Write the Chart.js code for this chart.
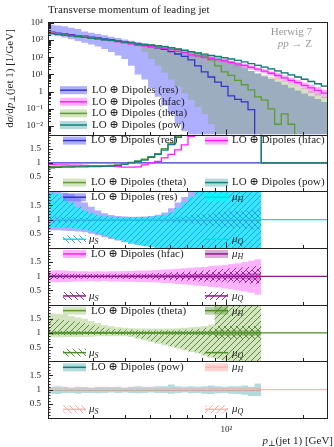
<!DOCTYPE html>
<html>
<head>
<meta charset="utf-8">
<script src="https://cdn.jsdelivr.net/npm/chart.js@4.4.1/dist/chart.umd.min.js"></script>
<style>
  html, body { margin: 0; padding: 0; background: #fff; }
</style>
</head>
<body>
<canvas id="c" width="334" height="447"></canvas>
<script>
// bin edges of p_T (jet 1) [GeV]
const edges = [20, 21.24, 22.56, 23.95, 25.44, 27.01, 28.69, 30.47, 32.35, 34.36, 36.49, 38.75, 41.15, 43.70,
  46.41, 49.29, 52.34, 55.59, 59.03, 62.69, 66.58, 70.70, 75.09, 79.74, 84.68, 89.93, 95.51, 101.4, 107.7,
  114.4, 121.5, 129.0, 137.0, 145.5, 154.5, 164.1, 174.3, 185.1, 196.5, 208.7, 221.7, 235.4, 250];

// main panel: d sigma / d pT [1/GeV]
const res   = [2890, 2550, 2290, 2050, 1840, 1680, 1480, 1350, 1190, 1070, 935, 817, 708, 574, 500, 418, 352, 288, 215, 155, 112, 70, 31.6, 14.1, 7.1, 3.55, 2.0, 0.56, 0.35, 0.25, 0.089, 0.001, null, null, null, null, null, null, null, null, null, null];
const hfac  = [2720, 2370, 2130, 1890, 1690, 1530, 1330, 1215, 1060, 942, 813, 694, 602, 494, 465, 418, 370, 340, 280, 226, 184, 136, 120, 100, 85, 72, 62, 50, 41.7, 33.1, 26.3, 20.4, 15.8, 11.7, 8.7, 6.3, 4.57, 3.31, 2.34, 1.66, 1.17, 0.81];
const theta = [2510, 2220, 2020, 1800, 1620, 1500, 1320, 1215, 1070, 974, 870, 784, 722, 614, 565, 510, 468, 432, 366, 302, 257, 211, 166, 120, 70.8, 31.6, 14.1, 8.9, 4.47, 2.51, 1.26, 0.5, 0.32, 0.1, 0.0126, 0.05, 0.0126, 0, null, null, null, null];
const pow   = [2400, 2140, 1950, 1740, 1585, 1445, 1288, 1175, 1047, 955, 851, 776, 708, 603, 550, 501, 457, 417, 355, 295, 251, 209, 178, 151, 129, 112, 95.5, 79.4, 66.1, 53.7, 42.7, 33.9, 26.9, 20.9, 16.2, 12.3, 9.33, 7.08, 5.25, 3.89, 2.88, 2.09];

// uncertainty envelopes, main panel
const resHi   = [7940, 7080, 6310, 5250, 4370, 3160, 2690, 2290, 1905, 1585, 1318, 1096, 912, 776, 661, 575, 501, 389, 331, 275, 234, 195, 166, 141, 120, 102, 87, 63, 40, 25, 15.8, 11.2, 7.9, 5.4, 3.7, 2.5, 1.7, 1.17, 0.79, 0.54, 0.37, 0.25];
const resLo   = [1905, 1660, 1413, 1122, 891, 708, 562, 417, 302, 200, 126, 79, 31.6, 10, 5.0, 1.58, 0.5, 0.158, 0.05, 0.0126, 0.005, 0, 0, 0, 0, 0, 0, 0, 0, 0, 0, 0, 0, 0, 0, 0, 0, 0, 0, 0, 0, 0];
const hfacHi  = [2920, 2540, 2280, 2030, 1810, 1640, 1430, 1300, 1140, 1010, 872, 744, 645, 530, 498, 448, 397, 364, 300, 242, 197, 156, 138, 115, 98, 83, 71, 57, 52.5, 41.7, 33.1, 25.7, 19.9, 14.7, 12.3, 8.9, 6.46, 4.68, 3.31, 2.63, 1.85, 1.28];
const hfacLo  = [2450, 2140, 1920, 1700, 1520, 1380, 1200, 1100, 956, 850, 733, 626, 543, 446, 419, 377, 334, 307, 253, 204, 166, 111, 98, 81, 69, 58.5, 50.4, 40.7, 29.5, 23.4, 18.6, 14.4, 11.2, 8.3, 5.2, 3.75, 2.72, 1.97, 1.39, 0.83, 0.59, 0.41];
const thetaHi = [2690, 2380, 2160, 1930, 1730, 1600, 1410, 1300, 1140, 1040, 930, 840, 770, 660, 605, 550, 500, 460, 390, 320, 275, 226, 190, 141, 112, 89, 71, 50, 35.5, 22.4, 15.8, 11.2, 8.9, 7.1, 5.6, 4.0, 2.8, 2.0, 1.58, 1.12, 0.79, 0.50];
const thetaLo = [2340, 2070, 1890, 1680, 1510, 1400, 1230, 1130, 1000, 910, 810, 730, 670, 500, 200, 79, 31.6, 12.6, 5.0, 2.0, 0.79, 0.32, 0.126, 0.05, 0.0126, 0.0025, 0, 0, 0, 0, 0, 0, 0, 0, 0, 0, 0, 0, 0, 0, 0, 0];
const powHi   = [2570, 2290, 2090, 1870, 1700, 1550, 1380, 1260, 1120, 1020, 912, 832, 759, 646, 590, 537, 490, 447, 381, 316, 269, 224, 191, 162, 138, 120, 102, 85.1, 70.9, 57.6, 45.8, 38.0, 30.2, 23.4, 18.2, 13.8, 10.5, 7.94, 5.89, 4.36, 3.23, 2.35];
const powLo   = [2240, 2000, 1820, 1620, 1480, 1350, 1200, 1100, 977, 891, 794, 724, 661, 563, 513, 467, 426, 389, 331, 275, 234, 195, 166, 141, 120, 104.5, 89.1, 74.1, 61.7, 50.1, 39.8, 30.2, 24.0, 18.6, 14.4, 11.0, 8.31, 6.31, 4.68, 3.47, 2.57, 1.86];

// ratio panel 1: ratio to (res)
const unity   = [1, 1, 1, 1, 1, 1, 1, 1, 1, 1, 1, 1, 1, 1, 1, 1, 1, 1, 1, 1, 1, 1, 1, 1, 1, 1, 1, 1, 1, 1, 1, 1, 1, 1, 1, 1, 1, 1, 1, 1, 1, 1];
const rHfac   = [0.94, 0.93, 0.93, 0.92, 0.92, 0.91, 0.9, 0.9, 0.89, 0.88, 0.87, 0.85, 0.85, 0.86, 0.93, 1.0, 1.05, 1.18, 1.3, 1.46, 1.64, 1.94, 3.8, 7.1, 12, 20, 31, 89, 119, 132, 296, 20400, 1, 1, 1, 1, 1, 1, 1, 1, 1, 1];
const rTheta  = [0.87, 0.87, 0.88, 0.88, 0.88, 0.89, 0.89, 0.9, 0.9, 0.91, 0.93, 0.96, 1.02, 1.07, 1.13, 1.22, 1.33, 1.5, 1.7, 1.95, 2.29, 3.0, 5.3, 8.5, 10, 8.9, 7.1, 15.9, 12.8, 10, 14.2, 500, 1, 1, 1, 1, 1, 1, 1, 1, 1, 1];
const rPow    = [0.83, 0.84, 0.85, 0.85, 0.86, 0.86, 0.87, 0.87, 0.88, 0.89, 0.91, 0.95, 1.0, 1.05, 1.1, 1.2, 1.3, 1.45, 1.65, 1.9, 2.24, 3.0, 5.6, 10.7, 18, 32, 48, 142, 189, 215, 480, 33900, 1, 1, 1, 1, 1, 1, 1, 1, 1, 1];

// scale variation panels (relative to own central value), first 32 bins
const p2TotU = [1.98, 1.98, 1.95, 1.9, 1.75, 1.6, 1.45, 1.32, 1.22, 1.16, 1.13, 1.11, 1.1, 1.1, 1.11, 1.13, 1.17, 1.25, 1.4, 1.6, 1.8, 2, 2, 2, 2, 2, 2, 2, 2, 2, 2, 2];
const p2TotL = [0.62, 0.62, 0.61, 0.6, 0.58, 0.55, 0.5, 0.45, 0.38, 0.32, 0.26, 0.2, 0.15, 0.1, 0.06, 0.03, 0, 0, 0, 0, 0, 0, 0, 0, 0, 0, 0, 0, 0, 0, 0, 0];
const p2HU = [1.95, 1.9, 1.75, 1.6, 1.45, 1.32, 1.22, 1.16, 1.12, 1.1, 1.09, 1.08, 1.08, 1.08, 1.09, 1.1, 1.13, 1.17, 1.25, 1.4, 1.6, 1.8, 2, 2, 2, 2, 2, 2, 2, 2, 2, 2];
const p2HL = [0.72, 0.72, 0.71, 0.7, 0.68, 0.64, 0.58, 0.5, 0.42, 0.35, 0.28, 0.22, 0.16, 0.11, 0.07, 0.04, 0.01, 0, 0, 0, 0, 0, 0, 0, 0, 0, 0, 0, 0, 0, 0, 0];
const p2SU = [1.1, 1.1, 1.09, 1.08, 1.07, 1.06, 1.05, 1.04, 1.04, 1.03, 1.03, 1.03, 1.03, 1.03, 1.03, 1.04, 1.05, 1.06, 1.08, 1.1, 1.12, 1.15, 1.18, 1.2, 1.22, 1.25, 1.28, 1.3, 1.3, 1.32, 1.35, 1.35];
const p2SL = [0.9, 0.9, 0.9, 0.91, 0.92, 0.93, 0.94, 0.95, 0.95, 0.96, 0.96, 0.96, 0.96, 0.96, 0.96, 0.95, 0.94, 0.93, 0.91, 0.9, 0.88, 0.85, 0.82, 0.8, 0.78, 0.75, 0.72, 0.7, 0.7, 0.68, 0.65, 0.65];

const p3TotU = [1.2, 1.21, 1.2, 1.19, 1.18, 1.18, 1.17, 1.18, 1.17, 1.18, 1.18, 1.19, 1.19, 1.2, 1.2, 1.21, 1.22, 1.24, 1.25, 1.27, 1.28, 1.3, 1.32, 1.33, 1.36, 1.38, 1.4, 1.43, 1.46, 1.5, 1.55, 1.6];
const p3TotL = [0.8, 0.79, 0.8, 0.81, 0.82, 0.82, 0.83, 0.82, 0.83, 0.82, 0.82, 0.81, 0.81, 0.8, 0.8, 0.79, 0.78, 0.76, 0.75, 0.73, 0.71, 0.69, 0.67, 0.65, 0.62, 0.6, 0.57, 0.54, 0.5, 0.46, 0.42, 0.35];
const p3HU = [1.05, 1.05, 1.05, 1.04, 1.04, 1.04, 1.04, 1.04, 1.04, 1.04, 1.04, 1.05, 1.05, 1.05, 1.05, 1.05, 1.06, 1.06, 1.06, 1.07, 1.07, 1.07, 1.08, 1.08, 1.08, 1.09, 1.09, 1.1, 1.1, 1.11, 1.12, 1.12];
const p3HL = [0.95, 0.95, 0.95, 0.96, 0.96, 0.96, 0.96, 0.96, 0.96, 0.96, 0.96, 0.95, 0.95, 0.95, 0.95, 0.95, 0.94, 0.94, 0.94, 0.93, 0.93, 0.93, 0.92, 0.92, 0.92, 0.91, 0.91, 0.9, 0.9, 0.89, 0.88, 0.88];
const p3SU = [1.08, 1.08, 1.07, 1.07, 1.07, 1.06, 1.06, 1.06, 1.06, 1.06, 1.06, 1.07, 1.07, 1.07, 1.07, 1.08, 1.08, 1.09, 1.09, 1.1, 1.1, 1.11, 1.12, 1.13, 1.14, 1.15, 1.16, 1.17, 1.18, 1.2, 1.22, 1.25];
const p3SL = [0.92, 0.92, 0.93, 0.93, 0.93, 0.94, 0.94, 0.94, 0.94, 0.94, 0.94, 0.93, 0.93, 0.93, 0.93, 0.92, 0.92, 0.91, 0.91, 0.9, 0.9, 0.89, 0.88, 0.87, 0.86, 0.85, 0.84, 0.83, 0.82, 0.8, 0.78, 0.75];
const p3QU = [1.1, 1.1, 1.1, 1.09, 1.09, 1.09, 1.08, 1.08, 1.08, 1.09, 1.09, 1.09, 1.1, 1.1, 1.1, 1.11, 1.12, 1.13, 1.14, 1.15, 1.16, 1.17, 1.18, 1.2, 1.22, 1.24, 1.26, 1.28, 1.3, 1.32, 1.34, 1.36];
const p3QL = [0.9, 0.9, 0.9, 0.91, 0.91, 0.91, 0.92, 0.92, 0.92, 0.91, 0.91, 0.91, 0.9, 0.9, 0.9, 0.89, 0.88, 0.87, 0.86, 0.85, 0.84, 0.83, 0.82, 0.81, 0.8, 0.79, 0.78, 0.77, 0.76, 0.75, 0.74, 0.72];

const p4TotU = [1.7, 1.68, 1.65, 1.6, 1.55, 1.5, 1.42, 1.35, 1.28, 1.24, 1.2, 1.18, 1.17, 1.16, 1.16, 1.16, 1.16, 1.16, 1.16, 1.17, 1.18, 1.2, 1.22, 1.25, 1.3, 2, 2, 2, 2, 2, 2, 2];
const p4TotL = [0.85, 0.85, 0.85, 0.86, 0.86, 0.87, 0.87, 0.88, 0.88, 0.88, 0.88, 0.88, 0.86, 0.8, 0.74, 0.68, 0.62, 0.57, 0.51, 0.45, 0.39, 0.33, 0.28, 0.2, 0.13, 0.07, 0.02, 0, 0, 0, 0, 0];
const p4HU = [1.05, 1.05, 1.05, 1.05, 1.05, 1.04, 1.04, 1.04, 1.04, 1.04, 1.04, 1.04, 1.04, 1.04, 1.04, 1.04, 1.04, 1.05, 1.05, 1.05, 1.05, 1.05, 1.06, 1.06, 1.07, 1.1, 1.1, 1.1, 1.1, 1.1, 1.1, 1.1];
const p4HL = [0.95, 0.95, 0.95, 0.95, 0.95, 0.96, 0.96, 0.96, 0.96, 0.96, 0.96, 0.96, 0.96, 0.96, 0.96, 0.96, 0.96, 0.95, 0.95, 0.95, 0.95, 0.95, 0.94, 0.94, 0.93, 0.9, 0.9, 0.9, 0.9, 0.9, 0.9, 0.9];
const p4SU = [1.08, 1.08, 1.08, 1.08, 1.07, 1.07, 1.07, 1.07, 1.06, 1.06, 1.06, 1.06, 1.06, 1.06, 1.06, 1.06, 1.06, 1.06, 1.07, 1.07, 1.07, 1.07, 1.08, 1.08, 1.1, 1.25, 1.25, 1.25, 1.25, 1.25, 1.25, 1.25];
const p4SL = [0.92, 0.92, 0.92, 0.92, 0.93, 0.93, 0.93, 0.93, 0.94, 0.94, 0.94, 0.94, 0.94, 0.94, 0.94, 0.94, 0.94, 0.94, 0.93, 0.93, 0.93, 0.93, 0.92, 0.92, 0.9, 0.8, 0.8, 0.8, 0.8, 0.8, 0.8, 0.8];
const p4QU = [1.5, 1.48, 1.46, 1.42, 1.38, 1.34, 1.28, 1.22, 1.18, 1.15, 1.13, 1.12, 1.11, 1.1, 1.1, 1.1, 1.1, 1.1, 1.1, 1.11, 1.12, 1.13, 1.15, 1.18, 1.22, 2, 2, 2, 2, 2, 2, 2];
const p4QL = [0.95, 0.95, 0.95, 0.95, 0.96, 0.96, 0.96, 0.96, 0.96, 0.96, 0.95, 0.93, 0.9, 0.84, 0.78, 0.72, 0.66, 0.6, 0.54, 0.48, 0.42, 0.36, 0.3, 0.23, 0.16, 0.1, 0.05, 0.02, 0, 0, 0, 0];

const p5TotU = [1.1, 1.12, 1.1, 1.08, 1.1, 1.09, 1.08, 1.1, 1.1, 1.09, 1.1, 1.08, 1.1, 1.12, 1.1, 1.1, 1.12, 1.12, 1.18, 1.12, 1.1, 1.12, 1.1, 1.12, 1.15, 1.12, 1.1, 1.12, 1.12, 1.15, 1.1, 1.22];
const p5TotL = [0.86, 0.85, 0.87, 0.88, 0.86, 0.88, 0.88, 0.87, 0.88, 0.9, 0.88, 0.9, 0.88, 0.87, 0.88, 0.9, 0.88, 0.88, 0.86, 0.88, 0.9, 0.87, 0.88, 0.86, 0.85, 0.87, 0.88, 0.86, 0.85, 0.82, 0.78, 0.78];
const p5HU = [1.03, 1.03, 1.03, 1.03, 1.03, 1.03, 1.03, 1.03, 1.03, 1.03, 1.03, 1.03, 1.03, 1.03, 1.03, 1.03, 1.03, 1.04, 1.04, 1.04, 1.04, 1.04, 1.04, 1.04, 1.04, 1.05, 1.05, 1.05, 1.05, 1.05, 1.05, 1.05];
const p5HL = [0.97, 0.97, 0.97, 0.97, 0.97, 0.97, 0.97, 0.97, 0.97, 0.97, 0.97, 0.97, 0.97, 0.97, 0.97, 0.97, 0.97, 0.96, 0.96, 0.96, 0.96, 0.96, 0.96, 0.96, 0.96, 0.95, 0.95, 0.95, 0.95, 0.95, 0.95, 0.95];
const p5VU = [1.04, 1.04, 1.04, 1.04, 1.04, 1.04, 1.04, 1.04, 1.04, 1.04, 1.04, 1.04, 1.04, 1.04, 1.04, 1.05, 1.05, 1.05, 1.05, 1.05, 1.05, 1.05, 1.05, 1.05, 1.06, 1.06, 1.06, 1.06, 1.06, 1.06, 1.07, 1.07];
const p5VL = [0.96, 0.96, 0.96, 0.96, 0.96, 0.96, 0.96, 0.96, 0.96, 0.96, 0.96, 0.96, 0.96, 0.96, 0.96, 0.95, 0.95, 0.95, 0.95, 0.95, 0.95, 0.95, 0.95, 0.95, 0.94, 0.94, 0.94, 0.94, 0.94, 0.94, 0.93, 0.93];

const YMIN = 0.00316, YMAX = 11000;
const MAIN = [YMIN, YMAX], RAT = [0, 2];
const SERIF = "'Liberation Serif', 'DejaVu Serif', serif";
const fnt = (size, style) => (style ? style + ' ' : '') + size + 'px ' + SERIF;

const S = {
  res:   { line: '#3535c8', band: 'rgba(110,110,255,0.55)' },
  hfac:  { line: '#ff1fff', band: 'rgba(255,0,255,0.3)' },
  theta: { line: '#5c9c34', band: 'rgba(120,170,60,0.32)' },
  pow:   { line: '#15807a', band: 'rgba(0,140,140,0.3)' }
};
const V = {
  res:   { line: '#00e0e8', band: 'rgba(0,255,255,0.7)',   hatch: '#2a9ad8' },
  hfac:  { line: '#8b1a8b', band: 'rgba(140,20,140,0.35)', hatch: '#8b1a8b' },
  theta: { line: '#4e8c2a', band: 'rgba(80,140,40,0.4)',   hatch: '#4a8626' },
  pow:   { line: '#ffb4b4', band: 'rgba(255,170,170,0.5)', hatch: '#ff9c9c' }
};

const canvas = document.getElementById('c');
const ctx0 = canvas.getContext('2d');

function makeHatch(color, dir) {
  const t = document.createElement('canvas');
  t.width = t.height = 6;
  const g = t.getContext('2d');
  g.strokeStyle = color;
  g.lineWidth = 0.9;
  g.beginPath();
  if (dir > 0) {
    g.moveTo(0, 6); g.lineTo(6, 0);
    g.moveTo(-1, 1); g.lineTo(1, -1);
    g.moveTo(5, 7); g.lineTo(7, 5);
  } else {
    g.moveTo(0, 0); g.lineTo(6, 6);
    g.moveTo(5, -1); g.lineTo(7, 1);
    g.moveTo(-1, 5); g.lineTo(1, 7);
  }
  g.stroke();
  return ctx0.createPattern(t, 'repeat');
}
for (const k in V) {
  V[k].hS = makeHatch(V[k].hatch, -1);
  V[k].hQ = makeHatch(V[k].hatch, 1);
}

// histogram outline points, two per bin
function histBand(vals, r) {
  const pts = [];
  vals.forEach((v, i) => {
    const c = Math.min(r[1], Math.max(r[0], v));
    pts.push({ x: edges[i], y: c }, { x: edges[i + 1], y: c });
  });
  return pts;
}
function histLine(vals, r) {
  const pts = [];
  let prevOut = false;
  vals.forEach((v, i) => {
    if (v === null) { pts.push({ x: edges[i], y: null }); prevOut = false; return; }
    const out = v > r[1] ? r[1] : (v < r[0] ? r[0] : null);
    if (out !== null) {
      if (prevOut === false) pts.push({ x: edges[i], y: out }, { x: edges[i], y: null });
      prevOut = out;
      return;
    }
    if (prevOut !== false) pts.push({ x: edges[i], y: prevOut });
    pts.push({ x: edges[i], y: v }, { x: edges[i + 1], y: v });
    prevOut = false;
  });
  return pts;
}

const datasets = [];
function band(axis, lo, hi, fill, order, r) {
  datasets.push({ data: histBand(lo, r), yAxisID: axis, borderWidth: 0, pointRadius: 0, fill: false, order: order });
  datasets.push({ data: histBand(hi, r), yAxisID: axis, borderWidth: 0, pointRadius: 0, fill: '-1', backgroundColor: fill, order: order });
}
function line(axis, vals, color, order, r) {
  datasets.push({ data: histLine(vals, r), yAxisID: axis, borderColor: color, borderWidth: 1.3, pointRadius: 0, fill: false, order: order });
}

// main panel
band('y', resLo, resHi, S.res.band, 40, MAIN);
band('y', hfacLo, hfacHi, S.hfac.band, 39, MAIN);
band('y', thetaLo, thetaHi, S.theta.band, 38, MAIN);
band('y', powLo, powHi, S.pow.band, 37, MAIN);
line('y', res, S.res.line, 4, MAIN);
line('y', hfac, S.hfac.line, 3, MAIN);
line('y', theta, S.theta.line, 2, MAIN);
line('y', pow, S.pow.line, 1, MAIN);

// ratio to res
line('r1', unity, S.res.line, 4, RAT);
line('r1', rHfac, S.hfac.line, 3, RAT);
line('r1', rTheta, S.theta.line, 2, RAT);
line('r1', rPow, S.pow.line, 1, RAT);

// variation panels
const panels = [
  ['r2', 'res',   p2TotL, p2TotU, p2HL, p2HU, p2SL, p2SU, p2HL, p2HU],
  ['r3', 'hfac',  p3TotL, p3TotU, p3HL, p3HU, p3SL, p3SU, p3QL, p3QU],
  ['r4', 'theta', p4TotL, p4TotU, p4HL, p4HU, p4SL, p4SU, p4QL, p4QU],
  ['r5', 'pow',   p5TotL, p5TotU, p5HL, p5HU, p5VL, p5VU, p5VL, p5VU]
];
panels.forEach(p => {
  const [ax, k, tl, tu, hl, hu, sl, su, ql, qu] = p;
  band(ax, tl, tu, S[k].band, 30, RAT);
  band(ax, hl, hu, V[k].band, 29, RAT);
  band(ax, sl, su, V[k].hS, 28, RAT);
  band(ax, ql, qu, V[k].hQ, 27, RAT);
  line(ax, unity.slice(0, 32), S[k].line, 2, RAT);
  line(ax, unity, V[k].line, 1, RAT);
});

const supers = { '4': '10⁴', '3': '10³', '2': '10²', '1': '10¹', '0': '1', '-1': '10⁻¹', '-2': '10⁻²' };
const tickFont = { family: SERIF, size: 9 };

function ratioScale(w) {
  return {
    type: 'linear', min: 0, max: 2, position: 'left', stack: 'panels', stackWeight: 57, weight: w,
    grid: { display: false, drawTicks: false }, border: { display: false },
    ticks: { stepSize: 0.5, autoSkip: false, padding: 7, font: tickFont, color: '#222',
      callback: v => (v <= 0 || v >= 2) ? '' : String(v) },
    afterFit: s => { s.width = 48; }
  };
}

function rich(ctx, segs, x, y, align) {
  let w = 0;
  segs.forEach(s => { ctx.font = s[1]; w += ctx.measureText(s[0]).width; });
  let cx = align === 'right' ? x - w : (align === 'center' ? x - w / 2 : x);
  segs.forEach(s => {
    ctx.font = s[1];
    ctx.fillText(s[0], cx, y + (s[2] || 0));
    cx += ctx.measureText(s[0]).width;
  });
}
function symbol(ctx, x, y, w, fill, stroke) {
  if (fill) { ctx.fillStyle = fill; ctx.fillRect(x, y - 4, w, 8); }
  if (stroke) {
    ctx.strokeStyle = stroke; ctx.lineWidth = 1.5;
    ctx.beginPath(); ctx.moveTo(x, y); ctx.lineTo(x + w, y); ctx.stroke();
  }
}
const lab = k => [['LO ⊕ Dipoles (' + k + ')', fnt(11)]];
const mu = s => [['μ', fnt(11, 'italic')], [s, fnt(8, 'italic'), 3]];

const decor = {
  id: 'decor',
  afterDatasetsDraw(chart) {
    const ctx = chart.ctx;
    const sc = chart.scales;
    ctx.save();
    ctx.textBaseline = 'middle';
    const item = (x, y, w, fill, stroke, segs, tx) => {
      symbol(ctx, x, y, w, fill, stroke);
      ctx.fillStyle = '#222';
      rich(ctx, segs, tx, y, 'left');
    };
    // main legend
    const mt = sc.y.top;
    ['res', 'hfac', 'theta', 'pow'].forEach((k, i) => {
      item(60, mt + 68 + i * 11.6, 27, S[k].band, S[k].line, lab(k), 92);
    });
    // ratio to res
    const t1 = sc.r1.top;
    item(63, t1 + 6, 23, S.res.band, S.res.line, lab('res'), 91);
    item(205, t1 + 6, 23, S.hfac.band, S.hfac.line, lab('hfac'), 232);
    item(63, t1 + 48, 23, S.theta.band, S.theta.line, lab('theta'), 91);
    item(205, t1 + 48, 23, S.pow.band, S.pow.line, lab('pow'), 232);
    // variation panels
    panels.forEach(p => {
      const k = p[1], t = sc[p[0]].top;
      item(63, t + 6, 23, S[k].band, S[k].line, lab(k), 91);
      item(205, t + 6, 23, V[k].band, V[k].line, mu('H'), 232);
      item(63, t + 48, 23, V[k].hS, V[k].line, mu('S'), 89);
      item(205, t + 48, 23, V[k].hQ, V[k].line, mu('Q'), 232);
    });
    ctx.restore();
  },
  afterDraw(chart) {
    const ctx = chart.ctx;
    const sc = chart.scales;
    const x = sc.x;
    const L = chart.chartArea.left, R = chart.chartArea.right;
    ctx.save();
    ctx.strokeStyle = '#222';
    ctx.lineWidth = 1;
    const ids = ['y', 'r1', 'r2', 'r3', 'r4', 'r5'];
    ids.forEach(id => {
      const s = sc[id];
      const top = Math.round(s.top) + 0.5, bot = Math.round(s.bottom) + 0.5;
      ctx.beginPath();
      [20, 30, 40, 50, 60, 70, 80, 90, 100, 200].forEach(v => {
        const px = Math.round(x.getPixelForValue(v)) + 0.5;
        const len = v === 100 ? 6 : 3.5;
        ctx.moveTo(px, bot); ctx.lineTo(px, bot - len);
      });
      if (id === 'y') {
        for (let e = -3; e <= 4; e++) {
          for (let m = 1; m <= 9; m++) {
            const v = m * Math.pow(10, e);
            if (v < YMIN || v > YMAX) continue;
            const py = Math.round(s.getPixelForValue(v)) + 0.5;
            ctx.moveTo(L, py); ctx.lineTo(L + (m === 1 ? 6 : 3), py);
          }
        }
      } else {
        for (let j = 1; j < 20; j++) {
          const py = Math.round(s.getPixelForValue(j / 10)) + 0.5;
          ctx.moveTo(L, py); ctx.lineTo(L + (j % 5 === 0 ? 5 : 2.5), py);
        }
      }
      ctx.stroke();
      ctx.strokeRect(Math.round(L) + 0.5, top, Math.round(R - L) - 1, bot - top);
    });

    // labels and annotations
    ctx.fillStyle = '#999';
    ctx.textBaseline = 'middle';
    rich(ctx, [['Herwig 7', fnt(11)]], 312, sc.y.top + 10, 'right');
    rich(ctx, [['pp', fnt(11, 'italic')], [' → Z', fnt(11)]], 312, sc.y.top + 22, 'right');

    ctx.fillStyle = '#222';
    ctx.textBaseline = 'alphabetic';
    rich(ctx, [['p', fnt(11, 'italic')], ['⊥', fnt(8), 2], ['(jet 1) [GeV]', fnt(11)]], 333, 444, 'right');

    ctx.save();
    ctx.translate(13, (sc.y.top + sc.y.bottom) / 2);
    ctx.rotate(-Math.PI / 2);
    rich(ctx, [['d', fnt(11)], ['σ', fnt(11, 'italic')], ['/d', fnt(11)], ['p', fnt(11, 'italic')],
      ['⊥', fnt(8), 2], ['(jet 1) [1/GeV]', fnt(11)]], 0, 0, 'center');
    ctx.restore();
    ctx.restore();
  }
};

new Chart(canvas, {
  type: 'line',
  data: { datasets: datasets },
  options: {
    responsive: false,
    animation: false,
    layout: { padding: { left: 0, right: 1, top: 0, bottom: 0 } },
    plugins: {
      legend: { display: false },
      tooltip: { enabled: false },
      title: {
        display: true, text: 'Transverse momentum of leading jet', align: 'start', fullSize: false,
        padding: { top: 4, bottom: 5 }, font: { family: SERIF, size: 11, weight: 'normal' }, color: '#222'
      }
    },
    elements: { line: { tension: 0 } },
    scales: {
      x: {
        type: 'logarithmic', min: 20, max: 250, position: 'bottom',
        grid: { display: false, drawTicks: false }, border: { display: false },
        ticks: { autoSkip: false, maxRotation: 0, padding: 6, font: tickFont, color: '#222',
          callback: v => Math.abs(v - 100) < 1e-6 ? '10²' : '' },
        afterFit: s => { s.height = 29; }
      },
      r5: ratioScale(1),
      r4: ratioScale(2),
      r3: ratioScale(3),
      r2: ratioScale(4),
      r1: ratioScale(5),
      y: {
        type: 'logarithmic', min: YMIN, max: YMAX, position: 'left', stack: 'panels', stackWeight: 113, weight: 6,
        grid: { display: false, drawTicks: false }, border: { display: false },
        ticks: { autoSkip: false, padding: 5, font: tickFont, color: '#222',
          callback: v => {
            const l = Math.log10(v);
            return Math.abs(l - Math.round(l)) < 1e-6 ? (supers[String(Math.round(l))] || '') : '';
          } },
        afterFit: s => { s.width = 48; }
      }
    }
  },
  plugins: [decor]
});
</script>
</body>
</html>
